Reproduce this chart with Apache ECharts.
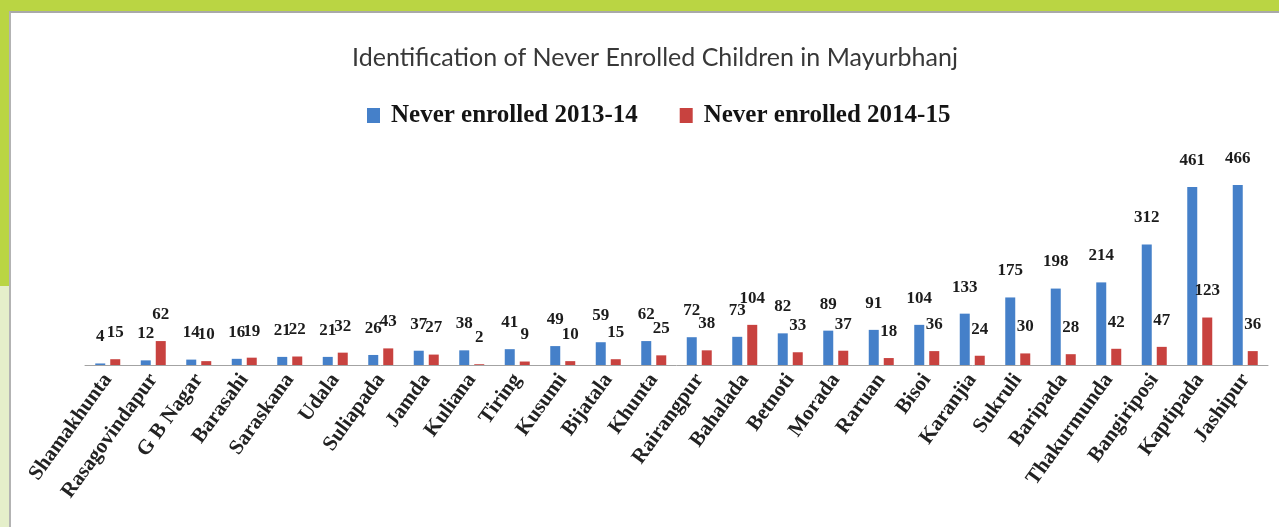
<!DOCTYPE html>
<html>
<head>
<meta charset="utf-8">
<title>Never Enrolled Children in Mayurbhanj</title>
<script src="https://cdn.jsdelivr.net/npm/echarts@6/dist/echarts.min.js"></script>
<style>
  html, body { margin: 0; padding: 0; width: 1279px; height: 527px; overflow: hidden; background: #bad543; }
  #strip { position: absolute; left: 0; top: 286px; width: 10px; bottom: 0; background: #e5efca; }
  #panel { position: absolute; left: 9px; top: 11px; right: 0; bottom: 0; background: #ffffff;
           border-top: 2px solid #a9a9a9; border-left: 2px solid #b3b3b3; }
  #chart { position: absolute; left: 0; top: 0; width: 1279px; height: 527px; }
</style>
</head>
<body>
<div id="strip"></div>
<div id="panel"></div>
<div id="chart"></div>
<script>
// Blocks of Mayurbhanj district
const blocks = [
  'Shamakhunta', 'Rasagovindapur', 'G B Nagar', 'Barasahi', 'Saraskana', 'Udala',
  'Suliapada', 'Jamda', 'Kuliana', 'Tiring', 'Kusumi', 'Bijatala', 'Khunta',
  'Rairangpur', 'Bahalada', 'Betnoti', 'Morada', 'Raruan', 'Bisoi', 'Karanjia',
  'Sukruli', 'Baripada', 'Thakurmunda', 'Bangiriposi', 'Kaptipada', 'Jashipur'
];

// Never enrolled children identified per block
const enrolled2013_14 = [4, 12, 14, 16, 21, 21, 26, 37, 38, 41, 49, 59, 62, 72, 73, 82, 89, 91, 104, 133, 175, 198, 214, 312, 461, 466];
const enrolled2014_15 = [15, 62, 10, 19, 22, 32, 43, 27, 2, 9, 10, 15, 25, 38, 104, 33, 37, 18, 36, 24, 30, 28, 42, 47, 123, 36];

const seriesNames = ['Never enrolled 2013-14', 'Never enrolled 2014-15'];
const chartTitle = 'Identification of Never Enrolled Children in Mayurbhanj';

const serif = "'Liberation Serif', 'DejaVu Serif', serif";

const valueLabel = {
  show: true,
  position: 'top',
  distance: 18,
  fontFamily: serif,
  fontWeight: 'bold',
  fontSize: 17,
  color: '#1c1c1c'
};

const chart = echarts.init(document.getElementById('chart'), null, { renderer: 'canvas' });
chart.setOption({
  backgroundColor: 'transparent',
  animation: false,
  title: {
    text: chartTitle,
    left: 650,
    top: 40,
    textAlign: 'center',
    textStyle: {
      fontFamily: "'Lato', sans-serif",
      fontWeight: 'normal',
      fontSize: 25,
      color: '#383838'
    }
  },
  legend: {
    data: seriesNames,
    left: 362,
    top: 98,
    icon: 'rect',
    itemWidth: 13,
    itemHeight: 15,
    itemGap: 42,
    textStyle: {
      fontFamily: serif,
      fontWeight: 'bold',
      fontSize: 25,
      color: '#141414',
      padding: [0, 0, 0, 6]
    }
  },
  grid: { left: 85, right: 11, top: 172, bottom: 162, containLabel: false },
  xAxis: {
    type: 'category',
    data: blocks,
    axisLine: { lineStyle: { color: '#a3a3a3', width: 1 } },
    axisTick: { show: false },
    axisLabel: {
      interval: 0,
      rotate: 54,
      margin: 11,
      fontFamily: serif,
      fontWeight: 'bold',
      fontSize: 21,
      color: '#222222'
    }
  },
  yAxis: {
    type: 'value',
    min: 0,
    max: 500,
    show: false,
    splitLine: { show: false }
  },
  series: [
    {
      name: seriesNames[0],
      type: 'bar',
      data: enrolled2013_14,
      barWidth: 10,
      barGap: '50%',
      itemStyle: { color: '#4580c9' },
      label: valueLabel
    },
    {
      name: seriesNames[1],
      type: 'bar',
      data: enrolled2014_15,
      barWidth: 10,
      itemStyle: { color: '#c8423f' },
      label: valueLabel
    }
  ]
});
</script>
</body>
</html>
